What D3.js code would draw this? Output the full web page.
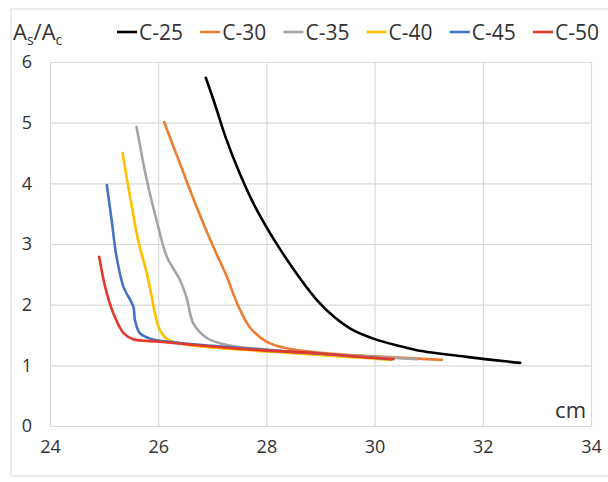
<!DOCTYPE html>
<meta charset="utf-8">
<style>
  body { margin: 0; background: #fff; }
  text { font-family: "Open Sans", sans-serif; fill: #333; }
</style>
<svg width="608" height="482"></svg>
<script src="https://cdn.jsdelivr.net/npm/d3@7/dist/d3.min.js"></script>
<script>

// series: [cm, As/Ac]
var names = ["C-25", "C-30", "C-35", "C-40", "C-45", "C-50"];
var colors = ["#000000", "#ed7d31", "#a5a5a5", "#ffc000", "#4472c4", "#e2392a"];

var c25 = [[26.88,5.74],[27.05,5.3],[27.25,4.75],[27.5,4.18],[27.8,3.6],[28.3,2.85],[28.93,2.08],[29.25,1.8],[29.6,1.58],[29.98,1.44],[30.4,1.33],[30.78,1.25],[31.7,1.14],[32.69,1.04]];
var c30 = [[26.11,5.01],[26.4,4.33],[26.71,3.61],[27.02,2.95],[27.27,2.46],[27.4,2.15],[27.52,1.9],[27.7,1.62],[28.0,1.39],[28.37,1.28],[29.1,1.2],[30.0,1.15],[31.24,1.09]];
var c35 = [[25.6,4.93],[25.79,4.05],[25.97,3.39],[26.16,2.79],[26.4,2.41],[26.53,2.1],[26.65,1.69],[26.9,1.45],[27.25,1.34],[28.0,1.26],[29.0,1.19],[30.0,1.14],[30.78,1.1]];
var c40 = [[25.34,4.5],[25.48,3.78],[25.63,3.06],[25.79,2.52],[25.88,2.13],[25.94,1.86],[26.03,1.58],[26.19,1.42],[26.6,1.33],[27.5,1.26],[28.5,1.2],[29.5,1.14],[30.3,1.09]];
var c45 = [[25.05,3.97],[25.14,3.39],[25.23,2.79],[25.36,2.29],[25.54,1.97],[25.57,1.75],[25.66,1.53],[25.85,1.44],[26.3,1.38],[27.0,1.32],[28.0,1.25],[29.0,1.19],[30.3,1.1]];
var c50 = [[24.91,2.79],[25.02,2.29],[25.17,1.86],[25.36,1.53],[25.54,1.43],[26.03,1.39],[27.0,1.31],[27.88,1.25],[28.93,1.2],[29.6,1.15],[30.35,1.1]];
var series = [c25, c30, c35, c40, c45, c50];

var xTicks = [24, 26, 28, 30, 32, 34];
var yTicks = [0, 1, 2, 3, 4, 5, 6];

var svg = d3.select("svg");

// outer chart border
svg.append("rect")
    .attr("x", 11).attr("y", 9)
    .attr("width", 620).attr("height", 467)
    .attr("fill", "none")
    .attr("stroke", "#d9d9d9");

var margin = {left: 50, top: 62, right: 17, bottom: 56},
    width = 608 - margin.left - margin.right,
    height = 482 - margin.top - margin.bottom;

var g = svg.append("g").attr("transform", "translate(" + margin.left + "," + margin.top + ")");

var x = d3.scaleLinear().domain([24, 34]).range([0, width]);
var y = d3.scaleLinear().domain([0, 6]).range([height, 0]);

// gridlines
g.append("g")
    .attr("class", "grid")
    .call(d3.axisLeft(y).tickValues(yTicks).tickSize(-width).tickFormat(""))
    .call(function(s) { s.select(".domain").remove(); });
g.append("g")
    .attr("class", "grid")
    .attr("transform", "translate(0," + height + ")")
    .call(d3.axisBottom(x).tickValues(xTicks).tickSize(-height).tickFormat(""))
    .call(function(s) { s.select(".domain").remove(); });
g.selectAll(".grid line").attr("stroke", "#d9d9d9").attr("stroke-width", 1.2);

// tick labels
g.append("g")
    .call(d3.axisLeft(y).tickValues(yTicks).tickFormat(d3.format("d")).tickSize(0).tickPadding(18))
    .call(function(s) {
        s.select(".domain").remove();
        s.selectAll("text").attr("font-size", 18).attr("font-family", null).attr("fill", "#333");
    });
g.append("g")
    .attr("transform", "translate(0," + height + ")")
    .call(d3.axisBottom(x).tickValues(xTicks).tickFormat(d3.format("d")).tickSize(0).tickPadding(14))
    .call(function(s) {
        s.select(".domain").remove();
        s.selectAll("text").attr("font-size", 18).attr("font-family", null).attr("fill", "#333");
    });

// curves
var line = d3.line()
    .x(function(d) { return x(d[0]); })
    .y(function(d) { return y(d[1]); })
    .curve(d3.curveCatmullRom.alpha(0.5));

g.selectAll(".curve")
    .data(series)
    .enter().append("path")
    .attr("class", "curve")
    .attr("d", line)
    .attr("fill", "none")
    .attr("stroke", function(d, i) { return colors[i]; })
    .attr("stroke-width", 2.6)
    .attr("stroke-linecap", "round");

// axis captions
var title = svg.append("text").attr("x", 13).attr("y", 40).attr("font-size", 22);
title.append("tspan").text("A");
title.append("tspan").attr("font-size", 14).attr("dy", 5).text("s");
title.append("tspan").attr("dy", -5).text("/A");
title.append("tspan").attr("font-size", 14).attr("dy", 5).text("c");

svg.append("text")
    .attr("x", 586).attr("y", 418)
    .attr("text-anchor", "end")
    .attr("font-size", 22)
    .text("cm");

// legend
var legend = svg.append("g").selectAll("g")
    .data(names)
    .enter().append("g")
    .attr("transform", function(d, i) { return "translate(" + (117 + i * 83.2) + ",0)"; });
legend.append("line")
    .attr("x1", 0).attr("x2", 20)
    .attr("y1", 32).attr("y2", 32)
    .attr("stroke", function(d, i) { return colors[i]; })
    .attr("stroke-width", 2.6);
legend.append("text")
    .attr("x", 22).attr("y", 40)
    .attr("font-size", 21)
    .text(function(d) { return d; });

</script>
